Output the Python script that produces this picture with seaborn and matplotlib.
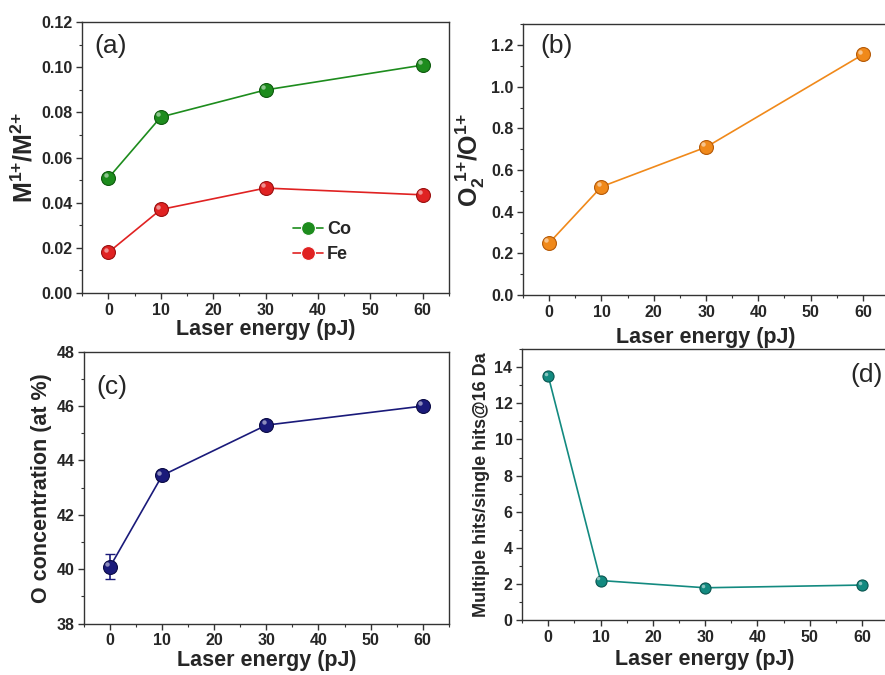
import numpy as np
import pandas as pd
import matplotlib
matplotlib.use("Agg")
import matplotlib.pyplot as plt
import matplotlib.transforms as mtransforms
from matplotlib.ticker import MultipleLocator, FormatStrFormatter
import seaborn as sns

# data
energy = [0, 10, 30, 60]
co_ratio = [0.051, 0.078, 0.090, 0.101]
fe_ratio = [0.018, 0.037, 0.0465, 0.0435]
o2_ratio = [0.25, 0.52, 0.71, 1.155]
o_conc = [40.1, 43.45, 45.3, 46.0]
o_conc_err = [0.45, 0.18, 0.12, 0.08]
multi_hits = [13.5, 2.2, 1.8, 1.95]

sns.set_style("ticks")
plt.rcParams["font.family"] = ["Liberation Sans", "DejaVu Sans"]
plt.rcParams["mathtext.fontset"] = "custom"
plt.rcParams["mathtext.rm"] = "Liberation Sans"
plt.rcParams["mathtext.bf"] = "Liberation Sans:bold"

fig = plt.figure(figsize=(8.85, 6.75), dpi=100)
ax_a = fig.add_axes([0.093, 0.566, 0.414, 0.401])
ax_b = fig.add_axes([0.591, 0.563, 0.4136, 0.401])
ax_c = fig.add_axes([0.095, 0.076, 0.412, 0.403])
ax_d = fig.add_axes([0.590, 0.081, 0.4136, 0.402])


def shiny(ax, x, y, size):
    # small highlight so the markers look like spheres
    off = mtransforms.ScaledTranslation(-size * 0.0028, size * 0.0028, fig.dpi_scale_trans)
    ax.plot(x, y, ls="none", marker="o", ms=size * 0.32, color="white",
            alpha=0.5, mec="none", transform=ax.transData + off, zorder=5)


def style(ax, ylim, ymaj, ymin, xpad=1):
    ax.set_xlim(-5, 65)
    ax.set_ylim(*ylim)
    ax.xaxis.set_major_locator(MultipleLocator(10))
    ax.xaxis.set_minor_locator(MultipleLocator(5))
    ax.yaxis.set_major_locator(MultipleLocator(ymaj))
    ax.yaxis.set_minor_locator(MultipleLocator(ymin))
    ax.tick_params(which="both", direction="out", top=False, right=False, color="#333333")
    ax.tick_params(which="major", length=4, width=1, labelsize=11.5, pad=3)
    ax.tick_params(which="minor", length=2.5, width=0.8)
    for sp in ax.spines.values():
        sp.set_visible(True)
        sp.set_color("#333333")
        sp.set_linewidth(1.0)
    ax.set_xlabel("Laser energy (pJ)", fontsize=15.5, fontweight="bold", labelpad=xpad)


def bold_ticks(ax):
    for lab in ax.get_xticklabels() + ax.get_yticklabels():
        lab.set_fontweight("bold")


line_kw = dict(marker="o", markersize=10, markeredgewidth=0.8, linewidth=1.2)

# (a)
df_a = pd.DataFrame({"energy": energy * 2, "ratio": co_ratio + fe_ratio,
                     "ion": ["Co"] * 4 + ["Fe"] * 4})
sns.lineplot(data=df_a, x="energy", y="ratio", hue="ion",
             palette={"Co": "#1d8c1d", "Fe": "#e02222"}, ax=ax_a, **line_kw)
for ln, ec in zip(ax_a.lines, ["#0e5a0e", "#9a1010"]):
    ln.set_markeredgecolor(ec)
shiny(ax_a, energy, co_ratio, 10)
shiny(ax_a, energy, fe_ratio, 10)
style(ax_a, (0, 0.12), 0.02, 0.01)
ax_a.yaxis.set_major_formatter(FormatStrFormatter("%.2f"))
bold_ticks(ax_a)
ax_a.set_ylabel(r"$\mathbf{M^{1{+}}/M^{2{+}}}$", fontsize=18, labelpad=3)
leg = ax_a.legend(loc="upper left", bbox_to_anchor=(0.53, 0.325), frameon=False,
                  handlelength=1.7, handletextpad=0.2, labelspacing=0.45,
                  prop={"weight": "bold", "size": 13})
ax_a.text(0.033, 0.955, "(a)", transform=ax_a.transAxes, fontsize=19, va="top")

# (b)
df_b = pd.DataFrame({"energy": energy, "ratio": o2_ratio})
sns.lineplot(data=df_b, x="energy", y="ratio", color="#f0891a",
             markeredgecolor="#b55a08", ax=ax_b, **line_kw)
shiny(ax_b, energy, o2_ratio, 10)
style(ax_b, (0, 1.3), 0.2, 0.1, xpad=5)
bold_ticks(ax_b)
ax_b.set_ylabel(r"$\mathbf{O_2^{\ 1{+}}/O^{1{+}}}$", fontsize=18, labelpad=3)
ax_b.text(0.047, 0.965, "(b)", transform=ax_b.transAxes, fontsize=19, va="top")

# (c)
df_c = pd.DataFrame({"energy": energy, "conc": o_conc})
ax_c.errorbar(energy, o_conc, yerr=o_conc_err, fmt="none", ecolor="#1a1a7a",
              elinewidth=1.2, capsize=3.5, zorder=2)
sns.lineplot(data=df_c, x="energy", y="conc", color="#1a1a7a",
             markeredgecolor="#0b0b45", ax=ax_c, **line_kw)
shiny(ax_c, energy, o_conc, 10)
style(ax_c, (38, 48), 2, 1)
bold_ticks(ax_c)
ax_c.set_ylabel("O concentration (at %)", fontsize=15.5, fontweight="bold", labelpad=3)
ax_c.text(0.033, 0.915, "(c)", transform=ax_c.transAxes, fontsize=19, va="top")

# (d)
df_d = pd.DataFrame({"energy": energy, "hits": multi_hits})
sns.lineplot(data=df_d, x="energy", y="hits", color="#138a80", marker="o",
             markersize=8, markeredgewidth=0.8, markeredgecolor="#0a5550",
             linewidth=1.2, ax=ax_d)
shiny(ax_d, energy, multi_hits, 8)
style(ax_d, (0, 15), 2, 1, xpad=3)
bold_ticks(ax_d)
ax_d.set_ylabel("Multiple hits/single hits@16 Da", fontsize=13, fontweight="bold", labelpad=3)
ax_d.text(0.985, 0.95, "(d)", transform=ax_d.transAxes, fontsize=19, va="top", ha="right")

fig.savefig("out.png", dpi=100)
